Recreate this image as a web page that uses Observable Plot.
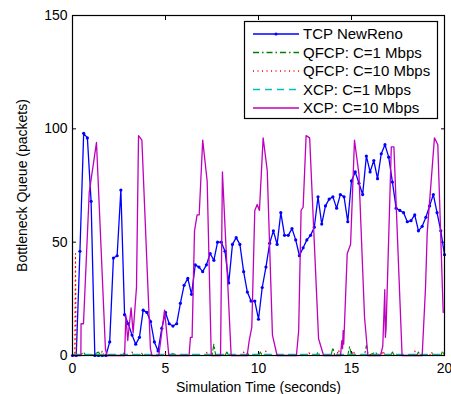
<!DOCTYPE html>
<html>
<head>
<meta charset="utf-8">
<script src="https://cdn.jsdelivr.net/npm/d3@7"></script>
<script src="https://cdn.jsdelivr.net/npm/@observablehq/plot@0.6"></script>
<style>
  html, body { margin: 0; padding: 0; background: #fff; }
</style>
</head>
<body>
<div id="chart"></div>
<script>
// ---------- tick labels ----------
const xTicks = [0, 5, 10, 15, 20];
const yTicks = [0, 50, 100, 150];

// ---------- TCP NewReno (sampled every 0.2 s) ----------
const tcpTime = [0,0.2,0.4,0.6,0.8,1,1.2,1.4,1.6,1.8,2,2.2,2.4,2.6,2.8,3,3.2,3.4,3.6,3.8,
  4,4.2,4.4,4.6,4.8,5,5.2,5.4,5.6,5.8,6,6.2,6.4,6.6,6.8,7,7.2,7.4,7.6,7.8,
  8,8.2,8.4,8.6,8.8,9,9.2,9.4,9.6,9.8,10,10.2,10.4,10.6,10.8,11,11.2,11.4,11.6,11.8,
  12,12.2,12.4,12.6,12.8,13,13.2,13.4,13.6,13.8,14,14.2,14.4,14.6,14.8,15,15.2,15.4,15.6,15.8,
  16,16.2,16.4,16.6,16.8,17,17.2,17.4,17.6,17.8,18,18.2,18.4,18.6,18.8,19,19.2,19.4,19.6,19.8,20];
const tcpQueue = [0,0,46,98,96,68,0,0,0,0,6,43,44,73,18,14,9,5,8,20,
  19,15,6,2,12,19,14,13,14,23,31,34,27,40,39,37,40,45,42,50,
  50,46,32,49,52,49,37,28,24,24,16,30,39,49.5,55,49,63,53,53,56,
  51,44,47.5,51,53,56.6,70,58,66,69,70,65,71,70,59,77,81,76,71,88,
  81,86,78,89,93,87.5,76.5,65,64,63,59,59.5,62,55,57,61,66,71,63,55,44.5];

// ---------- QFCP: C=1 Mbps (near zero, small spikes) ----------
const qfcp1Time = [0,0.4,0.6,0.7,1.0,1.4,1.5,2.0,2.7,2.8,2.9,3.6,3.7,3.8,4.4,5.3,5.4,5.5,6.2,7.0,7.5,7.6,7.7,8.2,8.3,8.4,9.3,9.4,9.5,
  10.0,10.1,10.2,11.0,12.0,13.1,13.2,13.3,13.9,14.0,14.1,14.8,14.9,15.0,15.7,15.8,15.9,16.3,16.4,17.1,17.2,17.3,18.0,18.5,18.6,18.7,19.5,19.8,19.9,20];
const qfcp1Queue = [0,0,1.5,0,0,1.5,0,0,0,1.5,0,0,1.2,0,0,0,1.5,0,0,0,0,5,0,0,1.5,0,0,1.2,0,
  0,1.5,0,0,0,0,1.5,0,0,3.5,0,0,4,0,0,4.5,0,1.5,0,0,1.5,0,0,0,1.5,0,0,0,2,0];

// ---------- QFCP: C=10 Mbps (near zero, start-up spike) ----------
const qfcp10Time = [0,0.12,0.16,0.2,0.8,1.5,1.6,1.7,2.4,3.1,3.2,3.3,4.0,4.9,5.0,5.1,6.0,7.1,7.2,7.3,8.0,9.1,9.2,9.3,
  10.3,10.4,10.5,11.5,12.6,12.7,12.8,13.4,14.2,14.3,14.4,15.0,15.1,15.2,16.0,16.6,16.7,16.8,17.5,18.3,18.4,18.5,19.2,19.3,19.4,20];
const qfcp10Queue = [0,0,45,0,0,0,2,0,0,0,1.5,0,0,0,1,0,0,0,1.5,0,0,0,1.5,0,
  0,2,0,0,0,1.5,0,0,0,2.5,0,0,2,0,0,0,2,0,0,0,2,0,0,1.5,0,0];

// ---------- XCP: C=1 Mbps (flat near zero) ----------
const xcp1Time = [0,2,4,6,8,10,12,14,16,18,20];
const xcp1Queue = [0.5,0.5,0.5,0.5,0.5,0.5,0.5,0.5,0.5,0.5,0.5];

// ---------- XCP: C=10 Mbps ----------
const xcp10Time = [0,0.45,0.46,0.59,0.9,1.29,1.77,1.85,2.8,2.87,2.97,3.15,3.26,3.44,3.55,3.73,4.19,4.27,
  4.64,4.95,5.18,6.27,6.34,6.43,6.56,6.7,6.81,7.0,7.24,7.46,7.96,8.06,8.53,
  9.39,9.5,9.64,9.8,9.93,10.05,10.25,10.47,10.75,11.0,12.04,12.16,12.29,12.4,12.56,12.75,13.23,13.5,
  14.41,14.48,14.52,14.55,14.58,14.62,14.77,14.95,15.16,15.4,15.7,15.88,16.56,16.68,16.79,16.82,16.86,
  17.14,17.28,17.72,18.8,18.98,19.07,19.46,19.64,19.93];
const xcp10Queue = [0,0,14,14,72,94,3,0,0,17.6,6.6,21,10,30,97,95,3,0,
  0,20,0,0,8,8,55,62,62,95,77,0,0,81,0,
  0,6.6,12.5,64,66.6,64,96,81.6,9,0,0,11,64,65.4,97,96,7.4,0,
  0,6.6,3,11,5,13,45,49,95,80,17,0,0,4,29,8,12,
  92,92,0,0,30,54,96,93,19];

// ---------- legend ----------
const legendNames = ["TCP NewReno", "QFCP: C=1 Mbps", "QFCP: C=10 Mbps", "XCP: C=1 Mbps", "XCP: C=10 Mbps"];
const legendColors = ["#0000ff", "#008000", "#ff0000", "#00bfbf", "#bf00bf"];
const legendDash = [null, "6,3,1.5,3", "1,3.5", "7,5", null];

const toRows = (t, v) => t.map((x, i) => ({t: x, q: v[i]}));
const tcp = toRows(tcpTime, tcpQueue);
const q1 = toRows(qfcp1Time, qfcp1Queue);
const q10 = toRows(qfcp10Time, qfcp10Queue);
const x1 = toRows(xcp1Time, xcp1Queue);
const x10 = toRows(xcp10Time, xcp10Queue);

const font = "'Liberation Sans', Arial, Helvetica, sans-serif";

const chart = Plot.plot({
  width: 451,
  height: 394,
  marginLeft: 72,
  marginRight: 7,
  marginTop: 15,
  marginBottom: 39,
  style: {fontFamily: font, fontSize: "14px", background: "white", color: "black"},
  x: {domain: [0, 20]},
  y: {domain: [0, 150]},
  marks: [
    Plot.axisX({anchor: "bottom", ticks: xTicks, tickSize: 0, tickPadding: 8, tickFormat: d => String(d),
      label: "Simulation Time (seconds)", labelAnchor: "center", labelArrow: "none", labelOffset: 36, fontSize: 14}),
    Plot.axisX({anchor: "bottom", ticks: xTicks, tickSize: -4, tickFormat: () => "", label: null}),
    Plot.axisX({anchor: "top", ticks: xTicks, tickSize: -4, tickFormat: () => "", label: null}),
    Plot.axisY({anchor: "left", ticks: yTicks, tickSize: 0, tickPadding: 5, tickFormat: d => String(d),
      label: "Bottleneck Queue (packets)", labelAnchor: "center", labelArrow: "none", labelOffset: 55}),
    Plot.axisY({anchor: "left", ticks: yTicks, tickSize: -4, tickFormat: () => "", label: null}),
    Plot.axisY({anchor: "right", ticks: yTicks, tickSize: -4, tickFormat: () => "", label: null}),
    Plot.line(tcp, {x: "t", y: "q", stroke: legendColors[0], strokeWidth: 1.3}),
    Plot.dot(tcp, {x: "t", y: "q", fill: legendColors[0], r: 1.6}),
    Plot.line(q1, {x: "t", y: "q", stroke: legendColors[1], strokeWidth: 1.1, strokeDasharray: legendDash[1]}),
    Plot.line(q10, {x: "t", y: "q", stroke: legendColors[2], strokeWidth: 1.1, strokeDasharray: legendDash[2]}),
    Plot.line(x1, {x: "t", y: "q", stroke: legendColors[3], strokeWidth: 1.3, strokeDasharray: legendDash[3]}),
    Plot.line(x10, {x: "t", y: "q", stroke: legendColors[4], strokeWidth: 1.3}),
    Plot.frame({stroke: "black", strokeWidth: 1.2})
  ]
});

document.getElementById("chart").appendChild(chart);

// legend box inside the plot area (upper right)
const svg = d3.select(chart);
const lg = svg.append("g").attr("font-family", font).attr("font-size", 15).attr("text-anchor", "start");
lg.append("rect").attr("x", 244.5).attr("y", 21.5).attr("width", 193).attr("height", 97)
  .attr("fill", "white").attr("stroke", "black").attr("stroke-width", 1.2);
legendNames.forEach((name, i) => {
  const yy = 34 + i * 18.5;
  lg.append("line").attr("x1", 253).attr("x2", 299).attr("y1", yy).attr("y2", yy)
    .attr("stroke", legendColors[i]).attr("stroke-width", 1.3)
    .attr("stroke-dasharray", legendDash[i]);
  if (i === 0) lg.append("circle").attr("cx", 276).attr("cy", yy).attr("r", 1.6).attr("fill", legendColors[i]);
  lg.append("text").attr("x", 303).attr("y", yy).attr("dy", "0.35em").attr("text-anchor", "start")
    .attr("fill", "black").text(name);
});
</script>
</body>
</html>
